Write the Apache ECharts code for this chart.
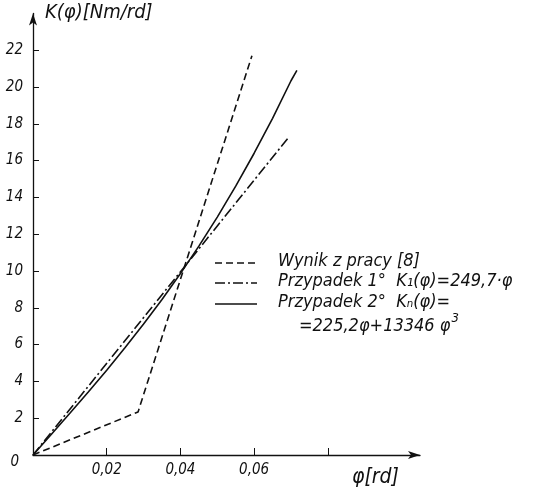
<!DOCTYPE html>
<html><head><meta charset="utf-8">
<script src="https://cdn.jsdelivr.net/npm/echarts@6/dist/echarts.min.js"></script>
<style>html,body{margin:0;padding:0;background:#fff}#c{width:543px;height:492px}</style>
</head><body><div id="c"></div>
<script>
// Values
var wynikPhi = [0, 0.0285, 0.0594];
var wynikK   = [0, 2.34, 21.7];
var p1Phi = [0, 0.0695];
var p1K   = [0, 17.3];
var p2Phi = [0, 0.005, 0.01, 0.015, 0.02, 0.025, 0.03, 0.035, 0.04, 0.045, 0.05, 0.055, 0.06, 0.065, 0.07, 0.0716];
var p2K   = [0, 1.13, 2.27, 3.42, 4.61, 5.84, 7.12, 8.45, 9.86, 11.35, 12.93, 14.61, 16.4, 18.3, 20.34, 20.9];
var yTicks = [0, 2, 4, 6, 8, 10, 12, 14, 16, 18, 20, 22];
var xTicks = [0.02, 0.04, 0.06, 0.08];
var xLabels = [0.02, 0.04, 0.06];
var legendNames = ['Wynik z pracy [8]', 'Przypadek 1°  K\u2081(\u03c6)=249,7\u00b7\u03c6', 'Przypadek 2°  K\u2099(\u03c6)=\u00a0'];
var formulaMain = '=225,2\u03c6+13346\u00a0\u03c6';
var formulaSup = '3';

function pairs(a, b) { return a.map(function (v, i) { return [v, b[i]]; }); }
var FONT = '"Liberation Sans Narrow","DejaVu Sans Condensed","Liberation Sans",sans-serif';
var INK = '#111';

var chart = echarts.init(document.getElementById('c'));
var lx1 = 215, lx2 = 257, tx = 278;
var rows = [263, 283, 304];
var dashes = [[7, 4], [10, 3, 2, 3], null];
var graphics = [];
rows.forEach(function (y, i) {
  graphics.push({ type: 'line', shape: { x1: lx1, y1: y, x2: lx2, y2: y },
    style: { stroke: INK, lineWidth: 1.6, lineDash: dashes[i] } });
  graphics.push({ type: 'text', left: tx, top: y - 11,
    style: { text: legendNames[i], font: 'italic 18px ' + FONT, fill: INK } });
});
graphics.push({ type: 'text', left: 299, top: 312,
  style: { text: '{m|' + formulaMain + '}{s|' + formulaSup + '}',
    rich: { m: { font: 'italic 18px ' + FONT, fill: INK, verticalAlign: 'bottom' },
            s: { font: 'italic 13px ' + FONT, fill: INK, verticalAlign: 'top', padding: [0, 0, 10, 1] } } } });
graphics.push({ type: 'text', left: 45, top: 3,
  style: { text: 'K(\u03c6)[Nm/rd]', font: 'italic 20px ' + FONT, fill: INK } });
graphics.push({ type: 'text', left: 352, top: 467,
  style: { text: '\u03c6[rd]', font: 'italic 21px ' + FONT, fill: INK } });

chart.setOption({
  backgroundColor: '#fff',
  animation: false,
  grid: { left: 33, right: 123, top: 13.4, bottom: 37, containLabel: false },
  xAxis: {
    type: 'value', min: 0, max: 0.105,
    splitLine: { show: false },
    axisLine: { lineStyle: { color: INK, width: 1.3 }, symbol: ['none', 'arrow'], symbolSize: [6, 12] },
    axisTick: { inside: true, length: 7, lineStyle: { color: INK }, customValues: xTicks },
    axisLabel: { customValues: xLabels, color: INK, fontFamily: FONT, fontStyle: 'italic', fontSize: 15, margin: 8,
      formatter: function (v) { return String(v).replace('.', ','); } }
  },
  yAxis: {
    type: 'value', min: 0, max: 24,
    splitLine: { show: false },
    axisLine: { lineStyle: { color: INK, width: 1.3 }, symbol: ['none', 'arrow'], symbolSize: [6, 12] },
    axisTick: { inside: true, length: 6, lineStyle: { color: INK }, customValues: yTicks.slice(1) },
    axisLabel: { customValues: yTicks, color: INK, fontFamily: FONT, fontStyle: 'italic', fontSize: 15, margin: 10,
      formatter: function (v) { return v === 0 ? '{z|0}' : String(v); },
      rich: { z: { fontFamily: FONT, fontStyle: 'italic', fontSize: 15, color: INK, padding: [14, 4, 0, 0] } } }
  },
  series: [
    { type: 'line', name: 'w', data: pairs(wynikPhi, wynikK), showSymbol: false,
      lineStyle: { color: INK, width: 1.6, type: [7, 4] } },
    { type: 'line', name: 'p1', data: pairs(p1Phi, p1K), showSymbol: false,
      lineStyle: { color: INK, width: 1.6, type: [10, 3, 2, 3] } },
    { type: 'line', name: 'p2', data: pairs(p2Phi, p2K), showSymbol: false,
      lineStyle: { color: INK, width: 1.6 } }
  ],
  graphic: graphics
});
</script></body></html>
